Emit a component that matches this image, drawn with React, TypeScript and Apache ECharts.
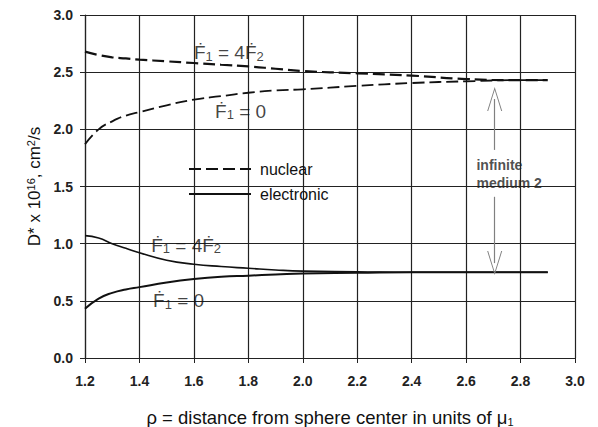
import React, { useEffect, useRef } from "react";
import * as echarts from "echarts";

const rho = [1.2, 1.25, 1.3, 1.35, 1.4, 1.5, 1.6, 1.7, 1.8, 1.9, 2.0, 2.2, 2.4, 2.6, 2.8, 2.9];
const nuclear4F2 = [2.68, 2.65, 2.63, 2.62, 2.61, 2.595, 2.58, 2.565, 2.55, 2.53, 2.51, 2.49, 2.47, 2.44, 2.43, 2.43];
const nuclearF0 = [1.87, 2.0, 2.07, 2.12, 2.15, 2.21, 2.26, 2.29, 2.32, 2.34, 2.35, 2.38, 2.405, 2.42, 2.43, 2.43];
const electronic4F2 = [1.07, 1.05, 1.0, 0.96, 0.92, 0.855, 0.82, 0.8, 0.785, 0.77, 0.76, 0.755, 0.75, 0.75, 0.75, 0.75];
const electronicF0 = [0.43, 0.52, 0.57, 0.6, 0.62, 0.66, 0.69, 0.71, 0.72, 0.73, 0.74, 0.745, 0.75, 0.75, 0.75, 0.75];

const xTicks = { min: 1.2, max: 3.0, interval: 0.2 };
const yTicks = { min: 0, max: 3.0, interval: 0.5 };

// annotation anchors (data coordinates): [x, y, kind]
const labelAnchors: [number, number, string][] = [
  [1.6, 2.67, "4F2"],
  [1.678, 2.16, "F0"],
  [1.443, 0.985, "4F2"],
  [1.45, 0.5, "F0"],
];
const mediumAnchor: [number, number] = [2.638, 1.61];
const arrowX = 2.705;
const arrowUp = [1.82, 2.265];
const arrowDown = [1.41, 0.83];

const FONT = "'Liberation Sans', Arial, sans-serif";
const FDOT = "F\u0307";

const pair = (a: number[]) => rho.map((x, i) => [x, a[i]]);

const arrowPath = "path://M0,24 L7.5,0 L15,24 L14,24 L7.5,3 L1,24 Z";

export default function App() {
  const ref = useRef<HTMLDivElement>(null);
  useEffect(() => {
    if (!ref.current) return;
    const chart = echarts.init(ref.current, undefined, { renderer: "svg" });
    const richF = {
      n: { fontSize: 19, fontFamily: FONT, color: "#111", lineHeight: 20 },
      s: { fontSize: 13, fontFamily: FONT, color: "#111", lineHeight: 6, verticalAlign: "bottom" },
    };
    const lineCommon = { type: "line", smooth: true, showSymbol: false, symbol: "none", z: 3 };
    chart.setOption({
      animation: false,
      backgroundColor: "#fff",
      grid: { left: 85, right: 23, top: 15, bottom: 69, outerBoundsMode: "none", containLabel: false },
      legend: {
        orient: "vertical",
        left: 183,
        top: 156,
        itemWidth: 62,
        itemHeight: 14,
        itemGap: 9,
        data: ["nuclear", "electronic"],
        itemStyle: { opacity: 0 },
        textStyle: { fontFamily: FONT, fontSize: 16, color: "#111", padding: [0, 0, 0, 4] },
        selectedMode: false,
      },
      xAxis: {
        type: "value",
        min: xTicks.min,
        max: xTicks.max,
        interval: xTicks.interval,
        name: "ρ = distance from sphere center in units of μ{sub|1}",
        nameLocation: "middle",
        nameGap: 50,
        nameTextStyle: {
          fontFamily: FONT,
          fontSize: 18.5,
          color: "#111",
          rich: { sub: { fontSize: 11, fontFamily: FONT, color: "#111", verticalAlign: "bottom", lineHeight: 10 } },
        },
        axisLine: { lineStyle: { color: "#222", width: 1.2 } },
        axisTick: { show: true, length: 5, lineStyle: { color: "#222" } },
        splitLine: { show: true, lineStyle: { color: "#222", width: 1.2 } },
        axisLabel: {
          fontFamily: FONT,
          fontSize: 14,
          fontWeight: "bold",
          color: "#222",
          margin: 16,
          formatter: (v: number) => v.toFixed(1),
        },
      },
      yAxis: {
        type: "value",
        min: yTicks.min,
        max: yTicks.max,
        interval: yTicks.interval,
        name: "D* x 10{sup|16}, cm{sup|2}/s",
        nameLocation: "middle",
        nameGap: 39,
        nameTextStyle: {
          fontFamily: FONT,
          fontSize: 17,
          color: "#111",
          rich: { sup: { fontSize: 11, fontFamily: FONT, color: "#111", verticalAlign: "top", lineHeight: 11 } },
        },
        axisLine: { show: true, lineStyle: { color: "#222", width: 1.2 } },
        axisTick: { show: true, length: 5, lineStyle: { color: "#222" } },
        splitLine: { show: true, lineStyle: { color: "#222", width: 1.2 } },
        axisLabel: {
          fontFamily: FONT,
          fontSize: 14,
          fontWeight: "bold",
          color: "#222",
          margin: 12,
          formatter: (v: number) => v.toFixed(1),
        },
      },
      series: [
        { ...lineCommon, name: "nuclear", data: pair(nuclear4F2), lineStyle: { color: "#111", width: 2.2, type: [12, 5] }, itemStyle: { color: "#111" } },
        { ...lineCommon, name: "nuclear", data: pair(nuclearF0), lineStyle: { color: "#111", width: 1.8, type: [12, 5] }, itemStyle: { color: "#111" } },
        { ...lineCommon, name: "electronic", data: pair(electronic4F2), lineStyle: { color: "#111", width: 1.6 }, itemStyle: { color: "#111" } },
        { ...lineCommon, name: "electronic", data: pair(electronicF0), lineStyle: { color: "#111", width: 2 }, itemStyle: { color: "#111" } },
        {
          type: "scatter",
          name: "labels",
          symbolSize: 0,
          z: 5,
          itemStyle: { color: "#111" },
          data: labelAnchors.map((a) => ({ value: [a[0], a[1]], kind: a[2] })),
          label: {
            show: true,
            position: "right",
            distance: 0,
            color: "#111",
            textBorderWidth: 0,
            formatter: (p: any) =>
              p.data.kind === "4F2"
                ? `{n|${FDOT}}{s|1}{n| = 4${FDOT}}{s|2}`
                : `{n|${FDOT}}{s|1}{n| = 0}`,
            rich: richF,
          },
        },
        {
          type: "scatter",
          name: "medium",
          symbolSize: 0,
          z: 5,
          itemStyle: { color: "#222" },
          data: [mediumAnchor],
          label: {
            show: true,
            position: "right",
            distance: 0,
            formatter: "infinite\nmedium 2",
            fontFamily: FONT,
            fontSize: 14,
            fontWeight: "bold",
            color: "#222",
            lineHeight: 18,
          },
          markLine: {
            silent: true,
            symbol: ["none", arrowPath],
            symbolSize: [15, 24],
            label: { show: false },
            lineStyle: { color: "#808080", width: 1.2, type: "solid" },
            itemStyle: { color: "#808080" },
            data: [
              [{ coord: [arrowX, arrowUp[0]] }, { coord: [arrowX, arrowUp[1]] }],
              [{ coord: [arrowX, arrowDown[0]] }, { coord: [arrowX, arrowDown[1]] }],
            ],
          },
        },
      ],
    });
    return () => chart.dispose();
  }, []);
  return <div ref={ref} style={{ width: 598, height: 427, position: "absolute", left: 0, top: 0 }} />;
}
